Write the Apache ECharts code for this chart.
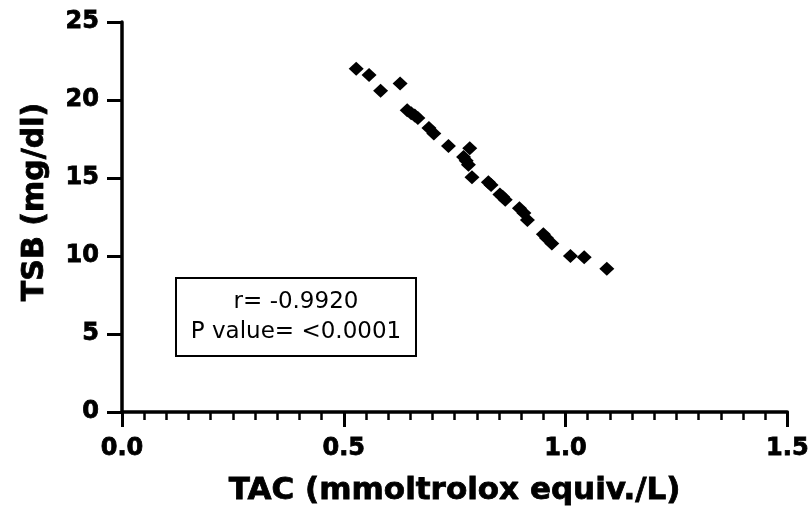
<!DOCTYPE html>
<html>
<head>
<meta charset="utf-8">
<script src="https://cdn.jsdelivr.net/npm/echarts@6/dist/echarts.min.js"></script>
<style>html,body{margin:0;padding:0;background:#fff}#c{width:812px;height:521px}</style>
</head>
<body>
<div id="c"></div>
<script>
const tac = [0.528,0.557,0.583,0.627,0.643,0.652,0.660,0.667,0.692,0.703,0.736,0.784,0.770,0.776,0.781,0.789,0.826,0.832,0.852,0.858,0.864,0.896,0.906,0.914,0.950,0.957,0.969,1.011,1.042,1.093];
const tsb = [22.0,21.6,20.6,21.05,19.35,19.15,19.0,18.85,18.2,17.85,17.05,16.9,16.35,16.1,15.85,15.05,14.72,14.55,13.95,13.8,13.6,13.06,12.75,12.3,11.4,11.15,10.8,10.0,9.92,9.18];
const xTitle = 'TAC (mmoltrolox equiv./L)';
const yTitle = 'TSB (mg/dl)';
const statLines = ['r= -0.9920', 'P value= <0.0001'];

const points = tac.map((v, i) => [v, tsb[i]]);
const chart = echarts.init(document.getElementById('c'), null, {renderer: 'canvas'});
const font = 'DejaVu Sans';
const heavy = {textBorderColor: '#000', textBorderWidth: 0.8};
chart.setOption({
  animation: false,
  backgroundColor: '#fff',
  grid: {left: 122, right: 18, top: 22, bottom: 109},
  xAxis: {
    type: 'value', min: 0, max: 1.5, interval: 0.5,
    name: xTitle, nameLocation: 'middle', nameGap: 63,
    nameTextStyle: Object.assign({fontFamily: font, fontWeight: 'bold', fontSize: 31, color: '#000'}, heavy),
    axisLine: {show: true, lineStyle: {color: '#000', width: 3.5}},
    axisTick: {show: true, length: 15, lineStyle: {color: '#000', width: 3}},
    minorTick: {show: true, splitNumber: 10, length: 8, lineStyle: {color: '#000', width: 2.5}},
    splitLine: {show: false},
    axisLabel: Object.assign({margin: 25, fontFamily: font, fontWeight: 'bold', fontSize: 24, color: '#000',
      formatter: v => v.toFixed(1)}, heavy)
  },
  yAxis: {
    type: 'value', min: 0, max: 25, interval: 5,
    name: yTitle, nameLocation: 'middle', nameGap: 72,
    nameTextStyle: Object.assign({fontFamily: font, fontWeight: 'bold', fontSize: 30, color: '#000', padding: [0, 0, 0, 30]}, heavy),
    axisLine: {show: true, lineStyle: {color: '#000', width: 3.5}},
    axisTick: {show: true, length: 15, lineStyle: {color: '#000', width: 3}},
    splitLine: {show: false},
    axisLabel: Object.assign({margin: 23, fontFamily: font, fontWeight: 'bold', fontSize: 24, color: '#000'}, heavy)
  },
  series: [{
    type: 'scatter', data: points, symbol: 'diamond', symbolSize: [15, 14],
    itemStyle: {color: '#000', opacity: 1}
  }],
  graphic: [{
    type: 'group', left: 175, top: 277,
    children: [
      {type: 'rect', shape: {x: 0, y: 0, width: 240, height: 78}, style: {fill: '#fff', stroke: '#000', lineWidth: 2}},
      {type: 'text', x: 120, y: 24, style: {text: statLines[0], fontFamily: font, fontSize: 23, fill: '#000', align: 'center', verticalAlign: 'middle'}},
      {type: 'text', x: 120, y: 54, style: {text: statLines[1], fontFamily: font, fontSize: 23, fill: '#000', align: 'center', verticalAlign: 'middle'}}
    ]
  }]
});
</script>
</body>
</html>
